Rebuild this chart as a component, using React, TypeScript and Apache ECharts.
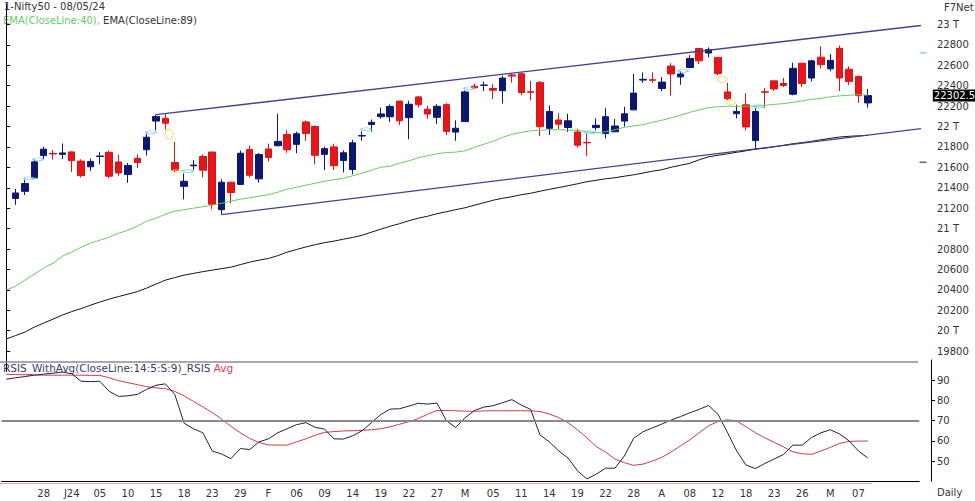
import React, { useEffect, useRef } from 'react';
import * as echarts from 'echarts';

// ---- data ----
const dates = [
  '2023-12-21', '2023-12-22', '2023-12-26', '2023-12-27', '2023-12-28', '2023-12-29',
  '2024-01-01', '2024-01-02', '2024-01-03', '2024-01-04', '2024-01-05', '2024-01-08', '2024-01-09', '2024-01-10',
  '2024-01-11', '2024-01-12', '2024-01-15', '2024-01-16', '2024-01-17', '2024-01-18', '2024-01-19', '2024-01-20',
  '2024-01-23', '2024-01-24', '2024-01-25', '2024-01-29', '2024-01-30', '2024-01-31',
  '2024-02-01', '2024-02-02', '2024-02-05', '2024-02-06', '2024-02-07', '2024-02-08', '2024-02-09', '2024-02-12',
  '2024-02-13', '2024-02-14', '2024-02-15', '2024-02-16', '2024-02-19', '2024-02-20', '2024-02-21', '2024-02-22',
  '2024-02-23', '2024-02-26', '2024-02-27', '2024-02-28', '2024-02-29',
  '2024-03-01', '2024-03-02', '2024-03-04', '2024-03-05', '2024-03-06', '2024-03-07', '2024-03-11', '2024-03-12',
  '2024-03-13', '2024-03-14', '2024-03-15', '2024-03-18', '2024-03-19', '2024-03-20', '2024-03-21', '2024-03-22',
  '2024-03-26', '2024-03-27', '2024-03-28',
  '2024-04-01', '2024-04-02', '2024-04-03', '2024-04-04', '2024-04-05', '2024-04-08', '2024-04-09', '2024-04-10',
  '2024-04-12', '2024-04-15', '2024-04-16', '2024-04-18', '2024-04-19', '2024-04-22', '2024-04-23', '2024-04-24',
  '2024-04-25', '2024-04-26', '2024-04-29', '2024-04-30',
  '2024-05-02', '2024-05-03', '2024-05-06', '2024-05-07', '2024-05-08',
];
const emptySlots = ['e1', 'e2', 'e3', 'e4', 'e5'];

const opens = [null, 21295, 21365, 21497, 21715, 21737, 21727, 21751, 21661, 21605, 21706, 21747, 21653, 21529, 21688, 21773, 22053, 22080, 21647, 21414, 21615, 21706, 21750, 21185, 21454, 21433, 21775, 21487, 21780, 21812, 21921, 21825, 22045, 22000, 21727, 21800, 21666, 21578, 21907, 22020, 22096, 22095, 22249, 22087, 22290, 22169, 22090, 22214, 21945, 22048, 22394, 22403, 22372, 22351, 22505, 22517, 22340, 22432, 21982, 22064, 21990, 21946, 21843, 21989, 21932, 21948, 22053, 22163, 22455, 22458, 22372, 22592, 22486, 22578, 22765, 22720, 22677, 22339, 22125, 22212, 21862, 22340, 22447, 22421, 22316, 22620, 22475, 22679, 22565, 22766, 22561, 22489, 22231];
const highs = [null, 21390, 21477, 21675, 21801, 21770, 21834, 21755, 21678, 21685, 21749, 21763, 21724, 21641, 21726, 21928, 22116, 22124, 21851, 21539, 21671, 21727, 21750, 21483, 21459, 21764, 21813, 21741, 21832, 22126, 21964, 21951, 22060, 22011, 21804, 21831, 21766, 21870, 21953, 22069, 22186, 22216, 22249, 22252, 22297, 22202, 22218, 22229, 22060, 22353, 22420, 22440, 22416, 22498, 22525, 22527, 22446, 22447, 22205, 22128, 22125, 21978, 21930, 22081, 22180, 22074, 22193, 22516, 22530, 22531, 22485, 22620, 22540, 22698, 22768, 22775, 22677, 22428, 22213, 22326, 22179, 22375, 22447, 22476, 22625, 22620, 22655, 22783, 22710, 22794, 22589, 22500, 22369];
const lows = [null, 21232, 21329, 21495, 21679, 21676, 21680, 21555, 21501, 21564, 21629, 21493, 21517, 21448, 21593, 21715, 21963, 21969, 21550, 21286, 21575, 21500, 21192, 21137, 21247, 21429, 21501, 21449, 21658, 21806, 21742, 21738, 21860, 21629, 21574, 21574, 21550, 21531, 21860, 21950, 22077, 22045, 22015, 21875, 22186, 22075, 22023, 21915, 21860, 22048, 22367, 22348, 22269, 22224, 22430, 22308, 22256, 21905, 21917, 21974, 21947, 21793, 21710, 21961, 21883, 21947, 21999, 22163, 22427, 22427, 22346, 22301, 22409, 22570, 22612, 22678, 22503, 22259, 22079, 21961, 21778, 22180, 22349, 22386, 22305, 22385, 22441, 22568, 22541, 22348, 22409, 22232, 22185];
const closes = [null, 21349, 21441, 21654, 21778, 21731, 21741, 21665, 21518, 21658, 21711, 21513, 21545, 21619, 21647, 21895, 22097, 22032, 21572, 21463, 21622, 21572, 21239, 21454, 21353, 21738, 21522, 21725, 21697, 21854, 21772, 21929, 21931, 21718, 21783, 21616, 21743, 21840, 21911, 22041, 22123, 22196, 22056, 22218, 22213, 22122, 22198, 21952, 21983, 22339, 22379, 22406, 22356, 22474, 22494, 22333, 22336, 21998, 22147, 22023, 22056, 21817, 21840, 22012, 22096, 22005, 22124, 22327, 22462, 22453, 22435, 22515, 22514, 22666, 22643, 22754, 22519, 22272, 22148, 21996, 22147, 22336, 22368, 22402, 22570, 22420, 22643, 22605, 22648, 22476, 22442, 22302, 22302.5];

const ema40 = [20397, 20436, 20495, 20554, 20612, 20661, 20730, 20769, 20818, 20857,
  20886, 20916, 20955, 20984, 21023, 21072, 21102, 21141, 21170, 21185,
  21200, 21214, 21229, 21248, 21268, 21288, 21302, 21317, 21332, 21356,
  21385, 21405, 21425, 21444, 21464, 21478, 21493, 21518, 21542, 21571,
  21601, 21610, 21640, 21664, 21694, 21713, 21733, 21745, 21749, 21762,
  21796, 21826, 21855, 21894, 21924, 21943, 21958, 21963, 21968, 21968,
  21965, 21963, 21948, 21938, 21948, 21968, 21992, 22007, 22017, 22041,
  22061, 22085, 22110, 22139, 22163, 22185, 22193, 22198, 22198, 22198,
  22198, 22207, 22217, 22224, 22237, 22251, 22266, 22276, 22291, 22300,
  22306, 22312, 22308];
const ema89 = [19918, 19952, 19986, 20035, 20074, 20113, 20153, 20187, 20216, 20250,
  20280, 20309, 20334, 20358, 20382, 20417, 20456, 20495, 20520, 20544,
  20561, 20578, 20593, 20608, 20622, 20647, 20671, 20691, 20707, 20735,
  20769, 20795, 20820, 20842, 20862, 20877, 20896, 20913, 20935, 20965,
  20994, 21023, 21048, 21077, 21102, 21121, 21146, 21165, 21185, 21204,
  21229, 21253, 21278, 21297, 21312, 21332, 21346, 21366, 21385, 21402,
  21420, 21439, 21459, 21473, 21488, 21498, 21513, 21527, 21544, 21562,
  21576, 21601, 21620, 21640, 21674, 21703, 21718, 21733, 21747, 21762,
  21777, 21787, 21801, 21816, 21831, 21842, 21855, 21870, 21884, 21897,
  21904, 21909, 21914];

const rsi = [90.5, 91.2, 91.8, 92.5, 93, 93.5, 94, 93.2, 89.5, 89.3,
  89.5, 84.5, 82, 82.3, 83, 85.5, 87.5, 88.2, 83, 68.7,
  66, 64, 55, 53.5, 51.2, 56.2, 55.7, 59.5, 61, 64,
  66, 68, 69, 66.7, 65.8, 61, 60.9, 62.5, 65, 69,
  73, 75.7, 75.9, 77.2, 78.6, 78.2, 78.7, 70, 66.6, 71.5,
  75, 76.7, 77.4, 78.9, 80.4, 77.7, 75.6, 62.9, 59.5, 55,
  51.5, 45.2, 41.2, 43.5, 46.5, 46.5, 52.5, 61.3, 64.5, 66.4,
  68.3, 70.3, 72, 73.9, 75.6, 77.5, 73.2, 64.3, 55, 48,
  46.3, 48.8, 51, 53.3, 57.9, 57.9, 61.7, 64, 65.5, 63.4,
  60, 55, 51.5];
const rsiAvg = [92.9, 92.8, 92.7, 92.6, 92.5, 92.5, 92.5, 92.5, 92.5, 92.4,
  92.4, 91.2, 89.8, 88.8, 87.8, 86.8, 86.2, 85.8, 84.5, 82.3,
  79.5, 76.8, 74, 70.8, 67.2, 64, 61.2, 59.2, 58, 57.9,
  57.9, 59.5, 61, 62.8, 64.2, 64.6, 64.9, 65, 65.2, 65.5,
  66, 67, 68.2, 69.5, 71, 73.2, 75, 75, 74.9, 74.7,
  74.6, 74.8, 74.9, 74.9, 74.9, 74.9, 74.9, 74.5, 73.3, 71.5,
  69, 65.5, 61.5, 57.2, 54.5, 51, 49.2, 47.9, 48.5, 50,
  51.8, 54.5, 57.5, 60.5, 64, 67.5, 69.5, 70.4, 69.9, 67,
  64, 61.5, 59.3, 57, 54.6, 53.6, 53.3, 55, 56.8, 58.8,
  59.7, 59.9, 59.9];

// drawn trend channel: [slot index, price]
const channelUpper = [[16, 22116], [98.65, 23000]];
const channelLower = [[23, 21137], [98.65, 21990]];
// signal ellipses: [slot index, price, width, height]
const cyanMarks = [[2.44, 21493], [3.4, 21679], [15.46, 21943], [19.41, 21562], [38.42, 21973], [49.42, 22374], [62.34, 21943], [72.27, 22545], [80.39, 22198]];
const yellowMarks = [[17.39, 21924, 8, 10], [18.24, 21562, 10, 3], [76.44, 22462, 10, 6], [77.35, 22237, 9, 5]];
const sideMarks = [[97.9, 22721, '#7ccbe0'], [97.9, 21650, '#7a2a2a']];

const lastPrice = 22302.5;
const rsiLevel = 70;
const tickLabels = ['28', 'J24', '05', '10', '15', '18', '23', '29', 'F', '06', '09', '14', '19', '22', '27', 'M', '05', '11', '14', '19', '22', '28', 'A', '08', '12', '18', '23', '26', 'M', '07'];
const tickStart = 4;
const tickStep = 3;

const FONT = "'DejaVu Sans', Verdana, sans-serif";

export default function App() {
  const ref = useRef<HTMLDivElement>(null);
  useEffect(() => {
    const chart = echarts.init(ref.current as HTMLDivElement, null, { renderer: 'svg' });
    const categories = [...dates, ...emptySlots];
    const candles = dates.map((_, i) =>
      opens[i] == null ? '-' : [opens[i], closes[i], lows[i], highs[i]]
    );
    const showTick = (index: number) =>
      index >= tickStart && (index - tickStart) % tickStep === 0 &&
      (index - tickStart) / tickStep < tickLabels.length;

    const yLabel = {
      fontSize: 10,
      color: '#333',
      fontFamily: FONT,
      margin: 6,
      showMinLabel: false,
      showMaxLabel: false,
    };

    const option: any = {
      animation: false,
      backgroundColor: '#fff',
      grid: [
        { left: 1.5, right: 55.7, top: 4, height: 367.5 },
        { left: 1.5, right: 55.7, top: 360, height: 121.3 },
      ],
      xAxis: [
        { type: 'category', gridIndex: 0, data: categories, boundaryGap: true, show: false },
        {
          type: 'category', gridIndex: 1, data: categories, boundaryGap: true,
          axisLine: { show: true, lineStyle: { color: '#000', width: 1 } },
          axisTick: { show: false },
          splitLine: { show: false },
          axisLabel: {
            interval: (index: number) => showTick(index),
            formatter: (_v: string, index: number) =>
              showTick(index) ? tickLabels[(index - tickStart) / tickStep] : '',
            fontSize: 10, color: '#333', fontFamily: FONT, margin: 7,
          },
        },
        { type: 'value', gridIndex: 0, min: -0.5, max: categories.length - 0.5, show: false },
      ],
      yAxis: [
        {
          type: 'value', gridIndex: 0, position: 'right', offset: 11.7,
          min: 19600, max: 23200, interval: 200,
          axisLine: { show: true, lineStyle: { color: '#000', width: 1 } },
          axisTick: { show: true, length: 4, lineStyle: { color: '#000' } },
          splitLine: { show: false },
          axisLabel: {
            ...yLabel,
            formatter: (v: number) => (v % 1000 === 0 ? `${v / 1000} T` : String(v)),
          },
        },
        {
          type: 'value', gridIndex: 1, position: 'right', offset: 11.7,
          min: 40, max: 100, interval: 10,
          axisLine: { show: true, lineStyle: { color: '#000', width: 1 } },
          axisTick: { show: true, length: 4, lineStyle: { color: '#000' } },
          splitLine: { show: false },
          axisLabel: { ...yLabel },
        },
      ],
      series: [
        {
          name: 'Nifty50', type: 'candlestick', xAxisIndex: 0, yAxisIndex: 0,
          data: candles, barWidth: 7,
          itemStyle: {
            color: '#0c1870', color0: '#e8161b',
            borderColor: '#0c1870', borderColor0: '#d8141a', borderWidth: 1,
          },
          markLine: {
            silent: true, symbol: 'none', animation: false,
            lineStyle: { color: 'rgba(0,0,0,0)', width: 0 },
            data: [{ yAxis: lastPrice }],
            label: {
              show: true, position: 'end', formatter: String(lastPrice),
              color: '#fff', backgroundColor: '#000', fontSize: 10, fontFamily: FONT,
              padding: [1, 1, 1, 1], distance: 13.5,
            },
          },
        },
        {
          name: 'EMA40', type: 'line', xAxisIndex: 0, yAxisIndex: 0, data: ema40,
          symbol: 'none', lineStyle: { color: '#66cc66', width: 1 }, z: 3,
        },
        {
          name: 'EMA89', type: 'line', xAxisIndex: 0, yAxisIndex: 0, data: ema89,
          symbol: 'none', lineStyle: { color: '#151515', width: 1 }, z: 3,
        },
        {
          name: 'ChannelUpper', type: 'line', xAxisIndex: 2, yAxisIndex: 0, data: channelUpper,
          symbol: 'none', clip: false, lineStyle: { color: '#42428c', width: 1.3 }, z: 4,
        },
        {
          name: 'ChannelLower', type: 'line', xAxisIndex: 2, yAxisIndex: 0, data: channelLower,
          symbol: 'none', clip: false, lineStyle: { color: '#42428c', width: 1.3 }, z: 4,
        },
        {
          name: 'CyanMarks', type: 'scatter', xAxisIndex: 2, yAxisIndex: 0, clip: false,
          data: cyanMarks.map((m) => [m[0], m[1]]),
          symbol: 'circle', symbolSize: [10, 3],
          itemStyle: { color: 'rgba(255,255,255,0)', borderColor: '#6ccbe6', borderWidth: 1.3 }, z: 5,
        },
        {
          name: 'YellowMarks', type: 'scatter', xAxisIndex: 2, yAxisIndex: 0, clip: false,
          data: yellowMarks.map((m) => ({ value: [m[0], m[1]], symbolSize: [m[2], m[3]] })),
          symbol: 'circle',
          itemStyle: { color: 'rgba(255,255,255,0)', borderColor: '#ece070', borderWidth: 1.3 }, z: 5,
        },
        {
          name: 'SideMarks', type: 'scatter', xAxisIndex: 2, yAxisIndex: 0, clip: false,
          data: sideMarks.map((m) => ({ value: [m[0], m[1]], itemStyle: { color: m[2] } })),
          symbol: 'rect', symbolSize: [7, 1.5], z: 5,
        },
        {
          name: 'RSIS', type: 'line', xAxisIndex: 1, yAxisIndex: 1, data: rsi,
          symbol: 'none', lineStyle: { color: '#1e2050', width: 1 }, z: 4,
          markLine: {
            silent: true, symbol: 'none', animation: false,
            data: [{ yAxis: rsiLevel }],
            lineStyle: { color: '#8a8a8a', width: 2, type: 'solid' },
            label: { show: false },
          },
        },
        {
          name: 'Avg', type: 'line', xAxisIndex: 1, yAxisIndex: 1, data: rsiAvg,
          symbol: 'none', lineStyle: { color: '#c94040', width: 1 }, z: 3,
        },
      ],
      graphic: [
        {
          type: 'line', silent: true, z: 1,
          shape: { x1: 0, y1: 362, x2: 918, y2: 362 },
          style: { stroke: '#8c8c8c', lineWidth: 1.5 },
        },
        {
          type: 'line', silent: true, z: 1,
          shape: { x1: 0, y1: 483.5, x2: 872, y2: 483.5 },
          style: { stroke: '#e4a0a0', lineWidth: 1 },
        },
        {
          type: 'text', left: 4, top: 1, silent: true,
          style: { text: '1-Nifty50 - 08/05/24', fill: '#333', fontSize: 10, fontFamily: FONT },
        },
        {
          type: 'text', left: 3, top: 15, silent: true,
          style: {
            text: '{g|EMA(CloseLine:40),} {k|EMA(CloseLine:89)}',
            fontSize: 10, fontFamily: FONT,
            rich: {
              g: { fill: '#66cc66', fontSize: 10, fontFamily: FONT },
              k: { fill: '#333', fontSize: 10, fontFamily: FONT },
            },
          },
        },
        {
          type: 'text', left: 944, top: 2, silent: true,
          style: { text: 'F7Net', fill: '#333', fontSize: 10, fontFamily: FONT },
        },
        {
          type: 'text', left: 3, top: 362, silent: true,
          style: {
            text: '{a|RSIS_WithAvg(CloseLine:14:5:S:9)_RSIS} {b|Avg}',
            fontSize: 10.5, fontFamily: FONT,
            rich: {
              a: { fill: '#3a3a6a', fontSize: 10.5, fontFamily: FONT },
              b: { fill: '#d04545', fontSize: 10.5, fontFamily: FONT },
            },
          },
        },
        {
          type: 'text', left: 937, top: 487, silent: true,
          style: { text: 'Daily', fill: '#333', fontSize: 10, fontFamily: FONT },
        },
      ],
    };
    chart.setOption(option);
    return () => chart.dispose();
  }, []);
  return (
    <div
      ref={ref}
      style={{ position: 'fixed', left: 0, top: 0, width: 975, height: 501, background: '#fff' }}
    />
  );
}
